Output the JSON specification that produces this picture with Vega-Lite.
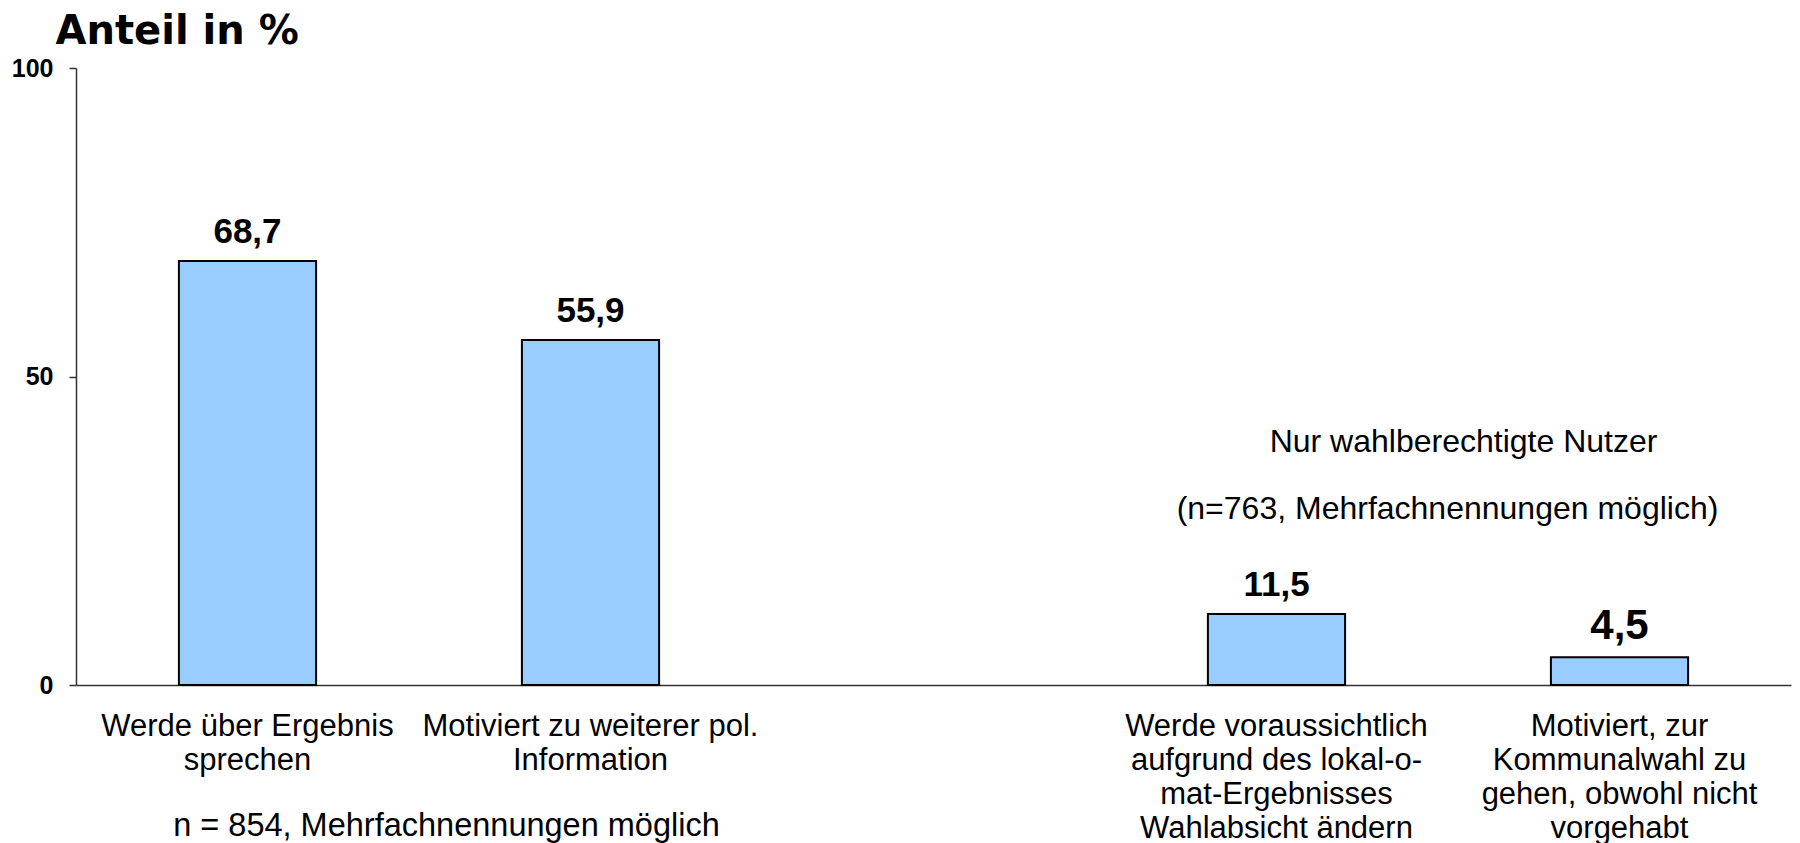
{
  "$schema": "https://vega.github.io/schema/vega-lite/v6.json",
  "width": 1715,
  "height": 617,
  "autosize": {"type": "none"},
  "padding": {"left": 76, "top": 68, "right": 9, "bottom": 158},
  "background": "white",
  "config": {
    "view": {"stroke": null},
    "font": "Liberation Sans",
    "locale": {"number": {"decimal": ",", "thousands": ".", "grouping": [3], "currency": ["", " €"]}}
  },
  "data": {
    "values": [
      {"kategorie": "Werde über Ergebnis|sprechen", "anteil": 68.7},
      {"kategorie": "Motiviert zu weiterer pol.|Information", "anteil": 55.9},
      {"kategorie": "Werde voraussichtlich|aufgrund des lokal-o-|mat-Ergebnisses|Wahlabsicht ändern", "anteil": 11.5},
      {"kategorie": "Motiviert, zur|Kommunalwahl zu|gehen, obwohl nicht|vorgehabt", "anteil": 4.5}
    ]
  },
  "encoding": {
    "x": {
      "field": "kategorie",
      "type": "nominal",
      "sort": null,
      "scale": {
        "domain": [
          "Werde über Ergebnis|sprechen",
          "Motiviert zu weiterer pol.|Information",
          " ",
          "Werde voraussichtlich|aufgrund des lokal-o-|mat-Ergebnisses|Wahlabsicht ändern",
          "Motiviert, zur|Kommunalwahl zu|gehen, obwohl nicht|vorgehabt"
        ],
        "paddingInner": 0.6,
        "paddingOuter": 0.3
      },
      "axis": {
        "title": "n = 854, Mehrfachnennungen möglich",
        "titleFont": "Liberation Sans",
        "titleFontSize": 32.5,
        "titleFontWeight": "normal",
        "titleColor": "#000",
        "titleX": 370,
        "titleY": 150,
        "titleAlign": "center",
        "titleBaseline": "alphabetic",
        "labelExpr": "split(datum.value, '|')",
        "labelAngle": 0,
        "labelFont": "Liberation Sans",
        "labelFontSize": 31,
        "labelLineHeight": 34,
        "labelPadding": 26,
        "labelLimit": 0,
        "labelColor": "#000",
        "labelOverlap": false,
        "ticks": false,
        "domainColor": "#333",
        "domainWidth": 1.5
      }
    },
    "y": {
      "field": "anteil",
      "type": "quantitative",
      "scale": {"domain": [0, 100], "nice": false},
      "axis": {
        "values": [0, 50, 100],
        "title": "Anteil in %",
        "titleAngle": 0,
        "titleX": -21,
        "titleY": -25,
        "titleAlign": "left",
        "titleBaseline": "alphabetic",
        "titleFont": "DejaVu Sans",
        "titleFontSize": 40,
        "titleFontWeight": "bold",
        "titleColor": "#000",
        "labelFont": "Liberation Sans",
        "labelFontSize": 25,
        "labelFontWeight": "bold",
        "labelColor": "#000",
        "labelPadding": 16,
        "tickSize": 7,
        "tickColor": "#333",
        "tickWidth": 1.5,
        "domainColor": "#333",
        "domainWidth": 1.5,
        "grid": false
      }
    }
  },
  "layer": [
    {"mark": {"type": "bar", "fill": "#99CCFF", "stroke": "#000", "strokeWidth": 2}},
    {
      "mark": {"type": "text", "font": "Liberation Sans", "fontWeight": "bold", "baseline": "alphabetic", "dy": -18, "color": "#000"},
      "encoding": {
        "text": {"field": "anteil", "type": "quantitative", "format": ".1f"},
        "size": {"condition": {"test": "datum.anteil < 5", "value": 42}, "value": 35}
      }
    },
    {
      "data": {"values": [{"kategorie": "Werde voraussichtlich|aufgrund des lokal-o-|mat-Ergebnisses|Wahlabsicht ändern", "hoehe": 37.8, "hinweis": "Nur wahlberechtigte Nutzer"}]},
      "mark": {"type": "text", "font": "Liberation Sans", "fontSize": 32, "baseline": "alphabetic", "align": "center", "dx": 187, "color": "#000"},
      "encoding": {
        "y": {"field": "hoehe", "type": "quantitative"},
        "text": {"field": "hinweis", "type": "nominal"}
      }
    },
    {
      "data": {"values": [{"kategorie": "Werde voraussichtlich|aufgrund des lokal-o-|mat-Ergebnisses|Wahlabsicht ändern", "hoehe": 26.9, "hinweis": "(n=763, Mehrfachnennungen möglich)"}]},
      "mark": {"type": "text", "font": "Liberation Sans", "fontSize": 32, "baseline": "alphabetic", "align": "center", "dx": 171, "color": "#000"},
      "encoding": {
        "y": {"field": "hoehe", "type": "quantitative"},
        "text": {"field": "hinweis", "type": "nominal"}
      }
    }
  ]
}
